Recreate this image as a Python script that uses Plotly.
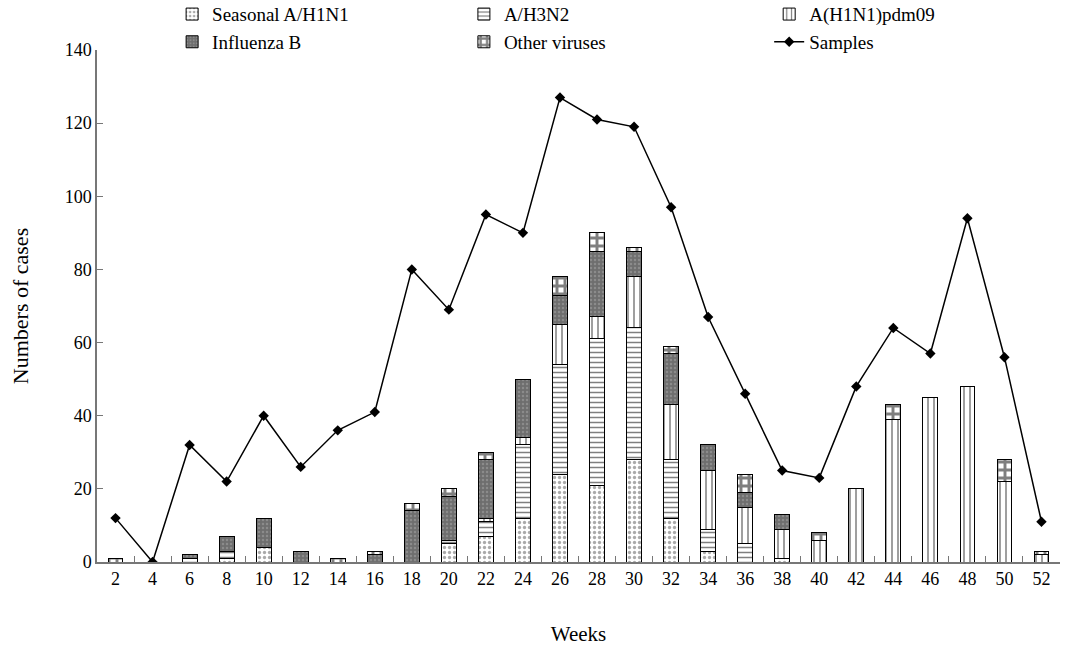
import plotly.graph_objects as go

weeks = [str(w) for w in range(2, 53, 2)]

seasonal_h1n1 = [0, 0, 0, 1, 4, 0, 0, 0, 0, 5, 7, 12, 24, 21, 28, 12, 3, 0, 1, 0, 0, 0, 0, 0, 0, 0]
a_h3n2 =        [0, 0, 1, 2, 0, 0, 0, 0, 0, 1, 4, 20, 30, 40, 36, 16, 6, 5, 0, 0, 0, 0, 0, 0, 0, 0]
pdm09 =         [0, 0, 0, 0, 0, 0, 0, 0, 0, 0, 1, 2, 11, 6, 14, 15, 16, 10, 8, 6, 20, 39, 45, 48, 22, 2]
influenza_b =   [0, 0, 1, 4, 8, 3, 0, 2, 14, 12, 16, 16, 8, 18, 7, 14, 7, 4, 4, 0, 0, 0, 0, 0, 0, 0]
other_viruses = [1, 0, 0, 0, 0, 0, 1, 1, 2, 2, 2, 0, 5, 5, 1, 2, 0, 5, 0, 2, 0, 4, 0, 0, 6, 1]
samples = [12, 0, 32, 22, 40, 26, 36, 41, 80, 69, 95, 90, 127, 121, 119, 97, 67, 46, 25, 23, 48, 64, 57, 94, 56, 11]

FONT = "Liberation Serif"

# (name, values, fill pattern, legend column)
series = [
    ("Seasonal A/H1N1", seasonal_h1n1, dict(shape=".", fgcolor="#555555", bgcolor="white", size=5, solidity=0.35), "legend"),
    ("A/H3N2", a_h3n2, dict(shape="-", fgcolor="black", bgcolor="white", size=5, solidity=0.3), "legend2"),
    ("A(H1N1)pdm09", pdm09, dict(shape="|", fgcolor="black", bgcolor="white", size=6, solidity=0.25), "legend3"),
    ("Influenza B", influenza_b, dict(shape=".", fgcolor="#a8a8a8", bgcolor="#6e6e6e", size=4, solidity=0.3), "legend"),
    ("Other viruses", other_viruses, dict(shape="+", fgcolor="black", bgcolor="white", size=8, solidity=0.6), "legend2"),
]

fig = go.Figure()
for name, vals, pat, leg in series:
    fig.add_trace(go.Bar(
        x=weeks, y=vals, name=name, legend=leg,
        marker=dict(color="white", line=dict(color="black", width=1), pattern=pat),
    ))

fig.add_trace(go.Scatter(
    x=weeks, y=samples, name="Samples", mode="lines+markers", legend="legend3",
    line=dict(color="black", width=1.5),
    marker=dict(symbol="diamond", size=8, color="black"),
))

LEG_Y = 1.107
legend_common = dict(
    orientation="v", y=LEG_Y, yanchor="top", xanchor="left",
    font=dict(family=FONT, size=19), traceorder="normal",
    bgcolor="rgba(0,0,0,0)", tracegroupgap=0,
)

fig.update_layout(
    width=1066, height=646,
    margin=dict(l=97, r=6, t=50, b=84, autoexpand=False),
    barmode="stack", bargap=0.6,
    plot_bgcolor="white", paper_bgcolor="white",
    font=dict(family=FONT, size=18, color="black"),
    legend=dict(x=0.078, **legend_common),
    legend2=dict(x=0.381, **legend_common),
    legend3=dict(x=0.698, **legend_common),
    xaxis=dict(
        type="category", range=[-0.5, 25.5], tickson="boundaries",
        ticks="inside", ticklen=6, tickcolor="#777777",
        showline=True, linecolor="#777777", linewidth=1.5,
        showgrid=False, automargin=False,
        title=dict(text="Weeks", font=dict(family=FONT, size=21), standoff=38),
        tickfont=dict(family=FONT, size=18),
    ),
    yaxis=dict(
        range=[0, 140], dtick=20, ticks="inside", ticklen=6, tickcolor="#777777",
        showline=True, linecolor="#777777", linewidth=1.5,
        showgrid=False, zeroline=False, automargin=False,
        title=dict(text="Numbers of cases", font=dict(family=FONT, size=22), standoff=30),
        tickfont=dict(family=FONT, size=18),
    ),
)

fig.write_html("out.html")
